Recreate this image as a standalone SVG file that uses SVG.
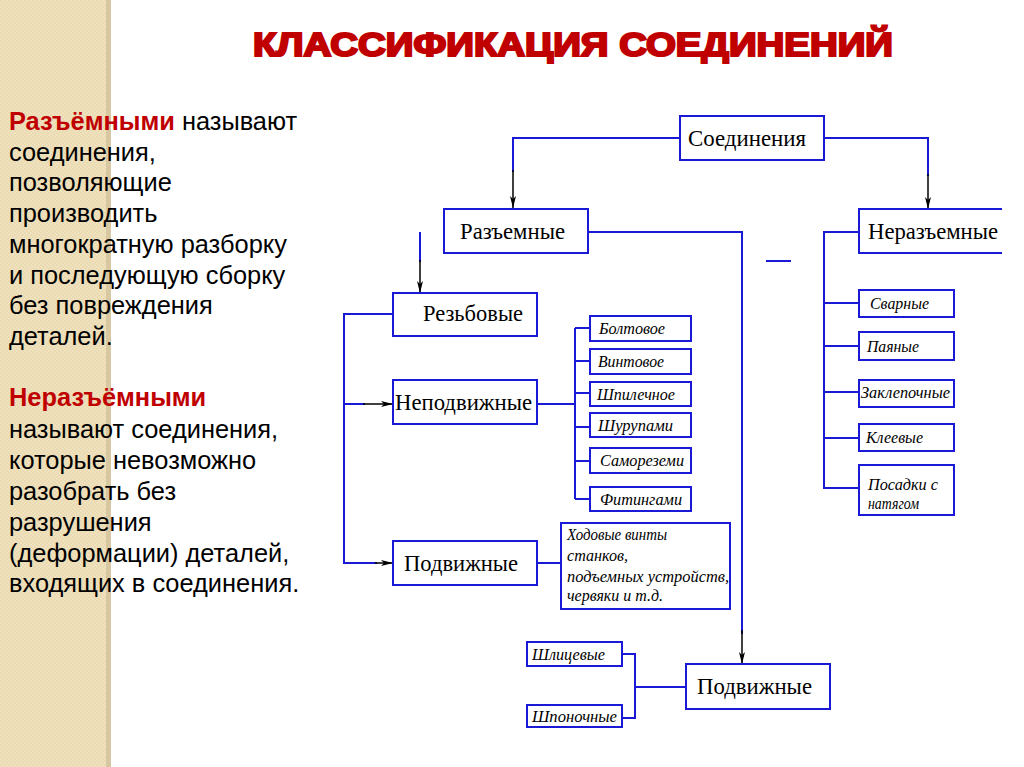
<svg xmlns="http://www.w3.org/2000/svg" width="1024" height="767" viewBox="0 0 1024 767">
<defs>
<marker id="arr" markerWidth="12" markerHeight="6" refX="12" refY="3" orient="auto" markerUnits="userSpaceOnUse">
<path d="M0,0 L12,3 L0,6 L3,3 z" fill="#000"/>
</marker>
<pattern id="tex" width="4" height="4" patternUnits="userSpaceOnUse">
<rect width="4" height="4" fill="#EFE1BC"/>
<rect width="2" height="2" fill="#EADBB4"/>
<rect x="2" y="2" width="2" height="2" fill="#EADBB4"/>
</pattern>
</defs>
<style>
.box{fill:#fff;stroke:#1a1ad6;stroke-width:2}
.ln{fill:none;stroke:#1a1ad6;stroke-width:2}
.ar{fill:none;stroke:#000;stroke-width:1.5;marker-end:url(#arr)}
.big{font-family:"Liberation Serif",serif;font-size:24px;fill:#000}
.it{font-family:"Liberation Serif",serif;font-style:italic;font-size:16.5px;fill:#000}
.body{font-family:"Liberation Sans",Arial,sans-serif;font-size:25.4px;fill:#000}
.red{font-weight:bold;fill:#C00000}
</style>
<rect width="1024" height="767" fill="#fff"/>
<rect x="0" y="0" width="107" height="767" fill="url(#tex)"/>
<rect x="106" y="0" width="5" height="767" fill="#D8C8A2"/>
<text x="253" y="56" textLength="640" lengthAdjust="spacingAndGlyphs" font-family="Liberation Sans,Arial,sans-serif" font-weight="bold" font-size="33" fill="#C00000" stroke="#C00000" stroke-width="2.2">КЛАССИФИКАЦИЯ СОЕДИНЕНИЙ</text>
<g id="description" class="body">
<text x="9" y="130"><tspan class="red">Разъёмными</tspan> называют</text>
<text x="9" y="161">соединения,</text>
<text x="9" y="191">позволяющие</text>
<text x="9" y="222">производить</text>
<text x="9" y="253">многократную разборку</text>
<text x="9" y="284">и последующую сборку</text>
<text x="9" y="314">без повреждения</text>
<text x="9" y="345">деталей.</text>
<text x="9" y="406" class="red">Неразъёмными</text>
<text x="9" y="438">называют соединения,</text>
<text x="9" y="469">которые невозможно</text>
<text x="9" y="500">разобрать без</text>
<text x="9" y="531">разрушения</text>
<text x="9" y="562">(деформации) деталей,</text>
<text x="9" y="592">входящих в соединения.</text>
</g>
<g id="connectors">
<path class="ln" d="M680,138 H513 V172"/>
<path class="ar" d="M513,170 V208"/>
<path class="ln" d="M824,138 H928 V176"/>
<path class="ar" d="M928,174 V209"/>
<path class="ln" d="M588,232 H742 V634"/>
<path class="ar" d="M742,630 V664"/>
<path class="ln" d="M766,261 H791"/>
<path class="ln" d="M420,232 V262"/>
<path class="ar" d="M420,260 V293"/>
<path class="ln" d="M393,314 H344 V563 H377"/>
<path class="ln" d="M344,404 H365"/>
<path class="ar" d="M363,404 H393"/>
<path class="ar" d="M375,563 H393"/>
<path class="ln" d="M537,404 H575"/>
<path class="ln" d="M575,328 V499 M575,328 H590 M575,361 H590 M575,393 H590 M575,427 H590 M575,461 H590 M575,499 H590"/>
<path class="ln" d="M537,563 H561"/>
<path class="ln" d="M859,232 H824 V488 H859 M824,303 H859 M824,346 H859 M824,392 H859 M824,438 H859"/>
<path class="ln" d="M622,654 H635 V718 H622 M635,687 H686"/>
</g>
<g id="n-soed"><rect class="box" x="680" y="116" width="144" height="44"/><text class="big" x="688" y="146" textLength="118" lengthAdjust="spacingAndGlyphs">Соединения</text></g>
<g id="n-razem"><rect class="box" x="444" y="209" width="144" height="44"/><text class="big" x="460" y="239" textLength="105" lengthAdjust="spacingAndGlyphs">Разъемные</text></g>
<g id="n-nerazem"><path class="box" d="M1002,209 H859 V253 H1002"/><text class="big" x="868" y="239" textLength="130" lengthAdjust="spacingAndGlyphs">Неразъемные</text></g>
<g id="n-rezb"><rect class="box" x="393" y="293" width="144" height="43"/><text class="big" x="423" y="321" textLength="100" lengthAdjust="spacingAndGlyphs">Резьбовые</text></g>
<g id="n-nepodv"><rect class="box" x="393" y="380" width="144" height="44"/><text class="big" x="395" y="410" textLength="137" lengthAdjust="spacingAndGlyphs">Неподвижные</text></g>
<g id="n-podv1"><rect class="box" x="393" y="541" width="144" height="44"/><text class="big" x="404" y="571" textLength="114" lengthAdjust="spacingAndGlyphs">Подвижные</text></g>
<g id="n-podv2"><rect class="box" x="686" y="664" width="144" height="45"/><text class="big" x="697" y="694" textLength="115" lengthAdjust="spacingAndGlyphs">Подвижные</text></g>
<g id="n-bolt"><rect class="box" x="590" y="316" width="101" height="25"/><text class="it" x="599" y="334" textLength="66" lengthAdjust="spacingAndGlyphs">Болтовое</text></g>
<g id="n-vint"><rect class="box" x="590" y="349" width="101" height="25"/><text class="it" x="598" y="367" textLength="66" lengthAdjust="spacingAndGlyphs">Винтовое</text></g>
<g id="n-shpil"><rect class="box" x="590" y="382" width="101" height="24"/><text class="it" x="597" y="400" textLength="78" lengthAdjust="spacingAndGlyphs">Шпилечное</text></g>
<g id="n-shur"><rect class="box" x="590" y="413" width="101" height="24"/><text class="it" x="598" y="431" textLength="75" lengthAdjust="spacingAndGlyphs">Шурупами</text></g>
<g id="n-samo"><rect class="box" x="590" y="448" width="101" height="25"/><text class="it" x="600" y="466" textLength="84" lengthAdjust="spacingAndGlyphs">Самореземи</text></g>
<g id="n-fit"><rect class="box" x="590" y="487" width="101" height="24"/><text class="it" x="600" y="505" textLength="82" lengthAdjust="spacingAndGlyphs">Фитингами</text></g>
<g id="n-hod"><rect class="box" x="561" y="523" width="169" height="86"/>
<text class="it" x="567" y="540" textLength="100" lengthAdjust="spacingAndGlyphs">Ходовые винты</text>
<text class="it" x="567" y="561" textLength="61" lengthAdjust="spacingAndGlyphs">станков,</text>
<text class="it" x="567" y="582" textLength="162" lengthAdjust="spacingAndGlyphs">подъемных устройств,</text>
<text class="it" x="567" y="601" textLength="96" lengthAdjust="spacingAndGlyphs">червяки и т.д.</text></g>
<g id="n-svar"><rect class="box" x="859" y="290" width="95" height="27"/><text class="it" x="870" y="309" textLength="59" lengthAdjust="spacingAndGlyphs">Сварные</text></g>
<g id="n-pay"><rect class="box" x="859" y="332" width="95" height="28"/><text class="it" x="867" y="352" textLength="52" lengthAdjust="spacingAndGlyphs">Паяные</text></g>
<g id="n-zakl"><rect class="box" x="859" y="380" width="95" height="27"/><text class="it" x="861" y="398" textLength="89" lengthAdjust="spacingAndGlyphs">Заклепочные</text></g>
<g id="n-kleev"><rect class="box" x="859" y="424" width="95" height="27"/><text class="it" x="866" y="443" textLength="57" lengthAdjust="spacingAndGlyphs">Клеевые</text></g>
<g id="n-posad"><rect class="box" x="859" y="465" width="95" height="50"/>
<text class="it" x="868" y="490" textLength="70" lengthAdjust="spacingAndGlyphs">Посадки с</text>
<text class="it" x="868" y="509" textLength="51" lengthAdjust="spacingAndGlyphs">натягом</text></g>
<g id="n-shlic"><rect class="box" x="527" y="642" width="95" height="24"/><text class="it" x="532" y="660" textLength="73" lengthAdjust="spacingAndGlyphs">Шлицевые</text></g>
<g id="n-shpon"><rect class="box" x="527" y="705" width="95" height="22"/><text class="it" x="532" y="722" textLength="85" lengthAdjust="spacingAndGlyphs">Шпоночные</text></g>
</svg>
